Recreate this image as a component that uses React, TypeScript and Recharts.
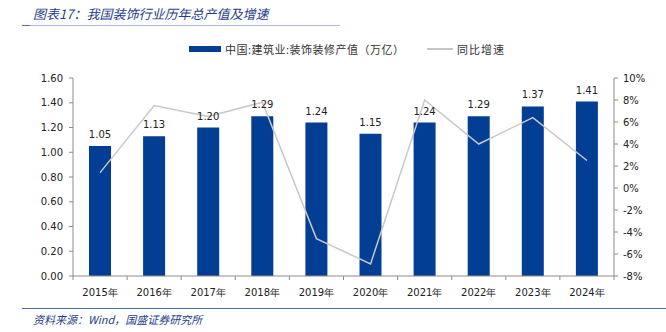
import React from "react";
import {
  ComposedChart,
  Bar,
  Line,
  XAxis,
  YAxis,
  LabelList,
} from "recharts";

const years = ["2015年", "2016年", "2017年", "2018年", "2019年", "2020年", "2021年", "2022年", "2023年", "2024年"];
const output = [1.05, 1.13, 1.2, 1.29, 1.24, 1.15, 1.24, 1.29, 1.37, 1.41];
const growth = [1.4, 7.5, 6.5, 7.8, -4.6, -6.9, 8.0, 4.0, 6.4, 2.5];
const leftTicks = [0, 0.2, 0.4, 0.6, 0.8, 1.0, 1.2, 1.4, 1.6];
const rightTicks = [-8, -6, -4, -2, 0, 2, 4, 6, 8, 10];

const data = years.map((year, i) => ({ year, output: output[i], growth: growth[i] }));

const W = 666;
const H = 332;
const PLOT_LEFT = 73;
const PLOT_RIGHT = 614;
const FONT = "'DejaVu Sans', sans-serif";
const CJK = "'Noto Sans CJK SC', sans-serif";
const BLUE = "#023E94";
const GREY_LINE = "#C8C8C8";
const AXIS = "#8C8C8C";

const bandWidth = (PLOT_RIGHT - PLOT_LEFT) / years.length;

const YearTick = (props: any) => {
  const { x, y, payload, index } = props;
  const axisY = y - 12;
  const last = index === years.length - 1;
  return (
    <g>
      <line x1={x - bandWidth / 2} x2={x - bandWidth / 2} y1={axisY} y2={axisY + 4} stroke={AXIS} />
      {last && <line x1={x + bandWidth / 2} x2={x + bandWidth / 2} y1={axisY} y2={axisY + 4} stroke={AXIS} />}
      <text x={x} y={y} dy={8} textAnchor="middle" fontSize={10} fontFamily={FONT} fill="#222">
        {payload.value}
      </text>
    </g>
  );
};

export default function App() {
  return (
    <div style={{ position: "absolute", left: 0, top: 0, width: W, height: H, background: "#fff", overflow: "hidden" }}>
      {/* title */}
      <div
        style={{
          position: "absolute",
          left: 33,
          top: 4,
          fontFamily: CJK,
          fontStyle: "italic",
          fontSize: 13,
          color: "#1F3E8C",
          whiteSpace: "nowrap",
        }}
      >
        图表17：我国装饰行业历年总产值及增速
      </div>
      <div style={{ position: "absolute", left: 22, top: 25, width: 318, height: 1, background: "#A9BCE0" }} />
      <div style={{ position: "absolute", left: 22, top: 25, width: 8, height: 1, background: "#4A6EB0" }} />

      {/* legend */}
      <div style={{ position: "absolute", left: 189, top: 46, width: 32, height: 6, background: BLUE }} />
      <div
        style={{ position: "absolute", left: 225, top: 41, fontFamily: CJK, fontSize: 11, color: "#333", whiteSpace: "nowrap", letterSpacing: 0.5 }}
      >
        中国:建筑业:装饰装修产值（万亿）
      </div>
      <div style={{ position: "absolute", left: 427, top: 48, width: 26, height: 1.5, background: GREY_LINE }} />
      <div
        style={{ position: "absolute", left: 457, top: 41, fontFamily: CJK, fontSize: 11, color: "#333", whiteSpace: "nowrap", letterSpacing: 1 }}
      >
        同比增速
      </div>

      <div style={{ position: "absolute", left: 0, top: 0 }}>
        <ComposedChart
          width={W}
          height={H}
          data={data}
          margin={{ top: 78, right: 12, bottom: 26, left: 13 }}
        >
          <XAxis
            dataKey="year"
            xAxisId="x"
            stroke={AXIS}
            tickLine={false}
            tickSize={4}
            tickMargin={8}
            height={30}
            interval={0}
            tick={<YearTick />}
          />
          <YAxis
            yAxisId="left"
            domain={[0, 1.6]}
            ticks={leftTicks}
            width={60}
            stroke={AXIS}
            tickSize={4}
            tickMargin={6}
            tick={{ fontSize: 10, fontFamily: FONT, fill: "#222" }}
            tickFormatter={(v: number) => v.toFixed(2)}
            interval={0}
          />
          <YAxis
            yAxisId="right"
            orientation="right"
            domain={[-8, 10]}
            ticks={rightTicks}
            width={40}
            stroke={AXIS}
            tickSize={4}
            tickMargin={5}
            tick={{ fontSize: 10, fontFamily: FONT, fill: "#222" }}
            tickFormatter={(v: number) => `${v}%`}
            interval={0}
          />
          <Bar dataKey="output" xAxisId="x" yAxisId="left" fill={BLUE} barSize={22} isAnimationActive={false}>
            <LabelList
              dataKey="output"
              position="top"
              offset={8}
              formatter={(v: any) => Number(v).toFixed(2)}
              style={{ fontSize: 10, fontFamily: FONT, fill: "#222" }}
            />
          </Bar>
          <Line
            dataKey="growth"
            xAxisId="x"
            yAxisId="right"
            type="linear"
            stroke={GREY_LINE}
            strokeWidth={1.5}
            dot={false}
            activeDot={false}
            isAnimationActive={false}
          />
        </ComposedChart>
      </div>

      {/* source */}
      <div style={{ position: "absolute", left: 22, top: 308, width: 644, height: 1, background: "#4A6EB0" }} />
      <div
        style={{
          position: "absolute",
          left: 33,
          top: 311,
          fontFamily: CJK,
          fontStyle: "italic",
          fontSize: 11,
          color: "#1F3E8C",
          whiteSpace: "nowrap",
        }}
      >
        资料来源：Wind，国盛证券研究所
      </div>
    </div>
  );
}
